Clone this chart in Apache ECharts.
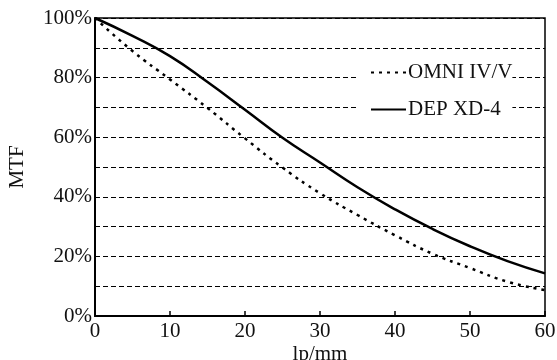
<!DOCTYPE html>
<html>
<head>
<meta charset="utf-8">
<script src="https://cdn.jsdelivr.net/npm/echarts@6/dist/echarts.min.js"></script>
<style>
  html, body { margin: 0; padding: 0; background: #fff; }
  #chart { width: 557px; height: 360px; }
</style>
</head>
<body>
<div id="chart"></div>
<script>
// spatial frequency, lp/mm
const freq = [0, 5, 10, 15, 20, 25, 30, 35, 40, 45, 50, 55, 60];
// MTF values in %
const omni = [100, 88.9, 79.4, 69.8, 59.6, 49.8, 41.2, 33.9, 27.1, 20.9, 16.1, 11.5, 8.7];
const dep = [100, 94, 87.2, 78.5, 69.2, 59.8, 51.5, 43.2, 35.8, 29.2, 23.4, 18.4, 14.3];
const seriesNames = ["OMNI IV/V", "DEP XD-4"];

const font = "'Liberation Serif', 'DejaVu Serif', serif";
const chart = echarts.init(document.getElementById("chart"));

function pairs(vals) {
    return freq.map((x, i) => [x, vals[i]]);
}

chart.setOption({
    animation: false,
    grid: {
        left: 95, right: 12, top: 18, bottom: 44,
        outerBoundsMode: 'none',
        containLabel: false,
        show: true,
        borderColor: '#000',
        borderWidth: 1.5
    },
    legend: {
        orient: 'vertical',
        left: 358, top: 62,
        itemWidth: 35,
        itemHeight: 14,
        itemGap: 16,
        padding: [0, 0, 0, 12],
        backgroundColor: '#fff',
        itemStyle: { opacity: 0 },
        textStyle: { fontFamily: font, fontSize: 21, color: '#111', padding: [0, 0, 0, -3] },
        data: seriesNames
    },
    xAxis: {
        type: 'value',
        min: 0, max: 60, interval: 10,
        name: 'lp/mm',
        nameLocation: 'middle',
        nameGap: 28,
        nameMoveOverlap: false,
        nameTextStyle: { fontFamily: font, fontSize: 21, color: '#111' },
        axisLine: { lineStyle: { color: '#000', width: 2 } },
        axisTick: { inside: true, length: 5, lineStyle: { color: '#000', width: 1.5 } },
        axisLabel: { fontFamily: font, fontSize: 21, color: '#111', margin: 5 },
        splitLine: { show: false }
    },
    yAxis: {
        type: 'value',
        min: 0, max: 100, interval: 10,
        name: 'MTF',
        nameLocation: 'middle',
        nameGap: 67,
        nameTextStyle: { fontFamily: font, fontSize: 21, color: '#111' },
        axisLine: { show: true, lineStyle: { color: '#000', width: 2 } },
        axisTick: { show: false },
        axisLabel: {
            fontFamily: font, fontSize: 21, color: '#111', margin: 3,
            formatter: v => (v % 20 === 0 ? v + '%' : '')
        },
        splitLine: { show: true, lineStyle: { color: '#000', width: 1, type: [5, 3] } }
    },
    series: [
        {
            name: seriesNames[0],
            type: 'line',
            smooth: true,
            symbol: 'none',
            lineStyle: { color: '#000', width: 2.5, type: [3, 5] },
            itemStyle: { color: '#000' },
            data: pairs(omni)
        },
        {
            name: seriesNames[1],
            type: 'line',
            smooth: true,
            symbol: 'none',
            lineStyle: { color: '#000', width: 2.5 },
            itemStyle: { color: '#000' },
            data: pairs(dep)
        }
    ]
});
</script>
</body>
</html>
